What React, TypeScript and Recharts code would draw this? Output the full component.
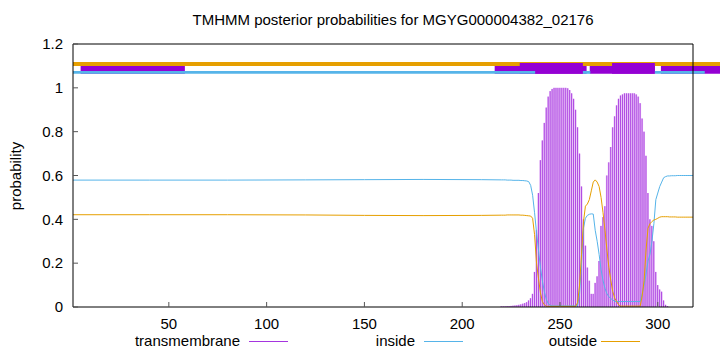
import React from "react";
import {
  Bar,
  ComposedChart,
  Line,
  ReferenceArea,
  XAxis,
  YAxis,
} from "recharts";

// flat N-terminal stretch, read at a few residues
const flatResidues = [1, 40, 80, 120, 150, 180, 210];
const flatInside = [0.579, 0.579, 0.579, 0.58, 0.581, 0.582, 0.581];
const flatOutside = [0.421, 0.421, 0.421, 0.42, 0.418, 0.417, 0.418];

// per-residue profile from residue 220 to 318
const profileStart = 220;
const insideProb = [
  0.58, 0.58, 0.58, 0.579, 0.579, 0.579, 0.578, 0.578, 0.578, 0.578,
  0.577, 0.577, 0.576, 0.575, 0.572, 0.555, 0.51, 0.43, 0.34, 0.26,
  0.18, 0.12, 0.07, 0.035, 0.015, 0.008,
  0.005, 0.005, 0.005, 0.005, 0.005, 0.005, 0.005, 0.005, 0.005, 0.005,
  0.005, 0.005, 0.005, 0.005,
  0.06, 0.2, 0.36, 0.405, 0.418, 0.423, 0.425, 0.424, 0.35, 0.3,
  0.24, 0.17, 0.12, 0.085, 0.06, 0.047, 0.038, 0.032,
  0.025, 0.025, 0.025, 0.025, 0.025, 0.025, 0.025, 0.025, 0.025, 0.025,
  0.025, 0.025, 0.025, 0.025,
  0.06, 0.1, 0.15, 0.21, 0.24, 0.3, 0.38, 0.49, 0.52, 0.55,
  0.57, 0.59, 0.595,
  0.598, 0.598, 0.599, 0.599, 0.599, 0.6, 0.6, 0.6, 0.6, 0.6,
  0.6, 0.6, 0.6, 0.6,
];
const outsideProb = [
  0.419, 0.419, 0.419, 0.42, 0.42, 0.42, 0.42, 0.42,
  0.42, 0.42, 0.419, 0.419, 0.418, 0.417, 0.416,
  0.415, 0.405, 0.33, 0.2, 0.13, 0.065, 0.025, 0.01,
  0.003, 0.003, 0.003, 0.003, 0.003, 0.003, 0.003, 0.003, 0.003, 0.003,
  0.003, 0.003, 0.003, 0.003, 0.003, 0.003,
  0.02, 0.1, 0.24, 0.39, 0.46, 0.47, 0.49, 0.53, 0.57, 0.58,
  0.57, 0.55, 0.5, 0.43, 0.35, 0.26, 0.18, 0.12, 0.07, 0.04,
  0.024, 0.01,
  0.004, 0.004, 0.004, 0.004, 0.004, 0.004, 0.004, 0.004, 0.004, 0.004,
  0.004,
  0.05, 0.12, 0.26, 0.36, 0.38, 0.39, 0.397, 0.4, 0.405, 0.41,
  0.412, 0.412, 0.412, 0.412, 0.411, 0.411, 0.411, 0.411, 0.41, 0.41,
  0.41, 0.41, 0.41, 0.41, 0.41, 0.41, 0.41,
];
const tmProb = [
  0.003, 0.003, 0.003, 0.004, 0.004, 0.005, 0.006,
  0.007, 0.008, 0.01, 0.012, 0.015, 0.018, 0.022, 0.03, 0.04, 0.06,
  0.16, 0.35, 0.52, 0.67, 0.76, 0.84, 0.91, 0.96, 0.985, 0.995,
  1.0, 1.0, 1.0, 1.0, 1.0, 1.0, 1.0,
  0.998, 0.99, 0.975, 0.95, 0.9, 0.82, 0.7, 0.55, 0.4, 0.28,
  0.18, 0.12, 0.06, 0.06, 0.11, 0.14, 0.21, 0.37, 0.41, 0.46,
  0.6, 0.66, 0.73, 0.82, 0.87, 0.92, 0.95, 0.965, 0.97,
  0.975, 0.975, 0.975, 0.975, 0.975, 0.975,
  0.97, 0.96, 0.93, 0.86, 0.8, 0.69, 0.52, 0.4, 0.37, 0.3,
  0.16, 0.1, 0.08, 0.07, 0.03, 0.01, 0.004,
  0, 0, 0, 0, 0, 0, 0, 0, 0, 0, 0, 0, 0,
];

// predicted topology strip above the plot (residue ranges)
const outsideStrip = [[1, 332]];
const insideStrip = [[1, 237.3], [261.7, 265.5], [298.5, 324]];
const tmStrip = [[4.9, 58.2], [216.6, 263.6], [265.2, 298.5], [301.6, 332]];
const tmCoreStrip = [[229.4, 261.7], [276.6, 298.5]];

const xTicks = [50, 100, 150, 200, 250, 300];
const yTicks = [0, 0.2, 0.4, 0.6, 0.8, 1, 1.2];

const PURPLE = "#a535df";
const BLUE = "#56b4e9";
const ORANGE = "#e69f00";
const FONT = "'Liberation Sans', Arial, sans-serif";
const FS = 15;

type Row = { residue: number; inside?: number; outside?: number; tm?: number };

const rows = new Map<number, Row>();
const rowAt = (r: number) => {
  if (!rows.has(r)) rows.set(r, { residue: r });
  return rows.get(r)!;
};
flatResidues.forEach((r, i) => {
  rowAt(r).inside = flatInside[i];
  rowAt(r).outside = flatOutside[i];
});
insideProb.forEach((v, i) => {
  rowAt(profileStart + i).inside = v;
  rowAt(profileStart + i).outside = outsideProb[i];
  rowAt(profileStart + i).tm = tmProb[i];
});
const data = [...rows.values()].sort((a, b) => a.residue - b.residue);

const Impulse = (props: any) => {
  const { x, y, width, height } = props;
  if (!height || height <= 0) return null;
  const cx = x + width / 2;
  return (
    <g>
      <rect x={cx - 1} y={y} width={2} height={height} fill="#e2b4f5" />
      <rect x={cx - 0.4} y={y} width={0.8} height={height} fill={PURPLE} />
    </g>
  );
};

const tickStyle = { fill: "#000", fontSize: FS, fontFamily: FONT };

function LegendItem({ label, color, textRight, lineLeft }: { label: string; color: string; textRight: number; lineLeft: number }) {
  return (
    <>
      <div style={{ position: "absolute", right: 720 - textRight, top: 332, fontSize: FS, lineHeight: "18px", whiteSpace: "nowrap" }}>{label}</div>
      <div style={{ position: "absolute", left: lineLeft, top: 341, width: 39, height: 1, background: color }} />
    </>
  );
}

export default function App() {
  const strip = (ranges: number[][], y1: number, y2: number, color: string, key: string) =>
    ranges.map(([a, b], i) => (
      <ReferenceArea
        key={key + i}
        x1={a}
        x2={b}
        y1={y1}
        y2={y2}
        fill={color}
        fillOpacity={1}
        stroke="none"
        ifOverflow="visible"
      />
    ));

  return (
    <div style={{ position: "absolute", left: 0, top: 0, width: 720, height: 352, background: "#fff", fontFamily: FONT, color: "#000" }}>
      <div style={{ position: "absolute", left: 393, top: 11, transform: "translateX(-50%)", fontSize: FS, lineHeight: "18px", whiteSpace: "nowrap" }}>
        TMHMM posterior probabilities for MGYG000004382_02176
      </div>
      <div style={{ position: "absolute", left: 16, top: 176, transform: "translate(-50%, -50%) rotate(-90deg)", fontSize: FS, lineHeight: "18px", whiteSpace: "nowrap" }}>
        probability
      </div>
      <ComposedChart width={720} height={352} data={data} margin={{ top: 43, right: 26, bottom: 44, left: 72 }}>
        {strip(outsideStrip, 1.1, 1.118, ORANGE, "o")}
        {strip(tmStrip, 1.064, 1.1, "#9400d3", "t")}
        {strip(tmCoreStrip, 1.064, 1.113, "#9400d3", "c")}
        {strip(insideStrip, 1.064, 1.077, BLUE, "i")}
        <Bar dataKey="tm" barSize={2} shape={Impulse} isAnimationActive={false} />
        <Line dataKey="inside" type="linear" stroke={BLUE} strokeWidth={1} dot={false} connectNulls isAnimationActive={false} />
        <Line dataKey="outside" type="linear" stroke={ORANGE} strokeWidth={1} dot={false} connectNulls isAnimationActive={false} />
        <XAxis
          dataKey="residue"
          type="number"
          domain={[1, 318]}
          ticks={xTicks}
          height={1}
          tickSize={-5}
          tickMargin={16}
          tick={tickStyle}
          axisLine={{ stroke: "#000" }}
          tickLine={{ stroke: "#555" }}
        />
        <XAxis
          xAxisId="top"
          orientation="top"
          type="number"
          domain={[1, 318]}
          ticks={xTicks}
          height={1}
          tickSize={-5}
          tick={false}
          axisLine={{ stroke: "#000" }}
          tickLine={{ stroke: "#555" }}
        />
        <YAxis
          type="number"
          domain={[0, 1.2]}
          ticks={yTicks}
          width={1}
          tickSize={-5}
          tickMargin={15}
          tick={tickStyle}
          axisLine={{ stroke: "#000" }}
          tickLine={{ stroke: "#555" }}
        />
        <YAxis
          yAxisId="right"
          orientation="right"
          type="number"
          domain={[0, 1.2]}
          ticks={yTicks}
          width={1}
          tickSize={-5}
          tick={false}
          axisLine={{ stroke: "#000" }}
          tickLine={{ stroke: "#555" }}
        />
      </ComposedChart>
      <LegendItem label="transmembrane" color={PURPLE} textRight={240} lineLeft={249} />
      <LegendItem label="inside" color={BLUE} textRight={415} lineLeft={424} />
      <LegendItem label="outside" color={ORANGE} textRight={597} lineLeft={601} />
    </div>
  );
}
